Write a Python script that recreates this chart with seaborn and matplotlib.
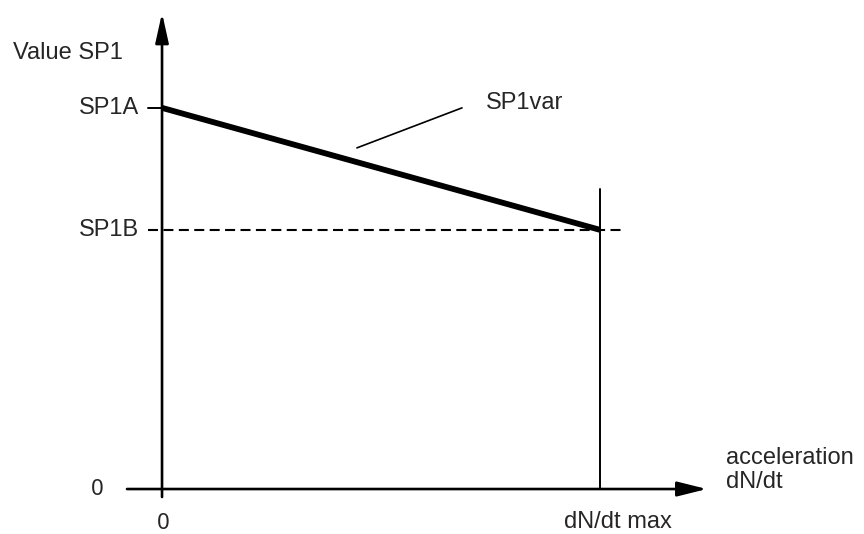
import matplotlib
matplotlib.use("Agg")
import matplotlib.pyplot as plt
import seaborn as sns
import pandas as pd

# values (x in units of dN/dt max, y in units of SP1A)
accel = [0.0, 1.0]
sp1var = [1.0, 0.68]
sp1a = 1.0
sp1b = 0.68
dndt_max = 1.0
y_labels = ["SP1A", "SP1B"]
y_label_vals = [sp1a, sp1b]

sns.set_style("white")
plt.rcParams['font.family'] = ['Liberation Sans', 'DejaVu Sans']

fig = plt.figure(figsize=(8.64, 5.34), dpi=100)
ax = fig.add_axes([0, 0, 1, 1])
ax.set_xlim(-0.370, 1.603)
ax.set_ylim(-0.118, 1.283)
ax.axis("off")

# coordinate axes with arrow heads
ax.annotate("", xy=(1.244, 0), xytext=(-0.08, 0),
            arrowprops=dict(arrowstyle="-|>,head_length=1.8,head_width=0.45",
                            color="black", lw=1.9, shrinkA=0, shrinkB=0))
ax.annotate("", xy=(0, 1.249), xytext=(0, -0.021),
            arrowprops=dict(arrowstyle="-|>,head_length=1.8,head_width=0.4",
                            color="black", lw=1.9, shrinkA=0, shrinkB=0))

# SP1var ramp
df = pd.DataFrame({"accel": accel, "sp1": sp1var})
sns.lineplot(data=df, x="accel", y="sp1", color="black", lw=4.2, ax=ax,
             solid_capstyle="butt")

# SP1B dashed level and dN/dt max vertical
ax.plot([-0.032, 1.05], [sp1b, sp1b], color="black", lw=1.5,
        linestyle=(0, (4.8, 2.6)))
ax.plot([dndt_max, dndt_max], [0, 0.787], color="black", lw=1.4)
ax.plot([-0.032, 0], [sp1a, sp1a], color="black", lw=1.4)

fs = 17

# leader to the curve
ax.plot([0.445, 0.685], [0.895, 1.0], color="black", lw=1.2)
ax.text(0.74, 1.013, "SP1var", fontsize=fs, ha="left", va="center")

ax.text(-0.34, 1.144, "Value SP1", fontsize=fs, ha="left", va="center")
for lab, v in zip(y_labels, y_label_vals):
    ax.text(-0.052, v, lab, fontsize=fs, ha="right", va="center")
ax.text(-0.148, 0, "0", fontsize=16, ha="center", va="center", family="Noto Sans")
ax.text(0.002, -0.09, "0", fontsize=16, ha="center", va="center", family="Noto Sans")
ax.text(1.041, -0.087, "dN/dt max", fontsize=fs, ha="center", va="center")
ax.text(1.288, 0.05, "acceleration\ndN/dt", fontsize=fs, ha="left", va="center",
        linespacing=1.1)

fig.savefig("out.png", dpi=100)
